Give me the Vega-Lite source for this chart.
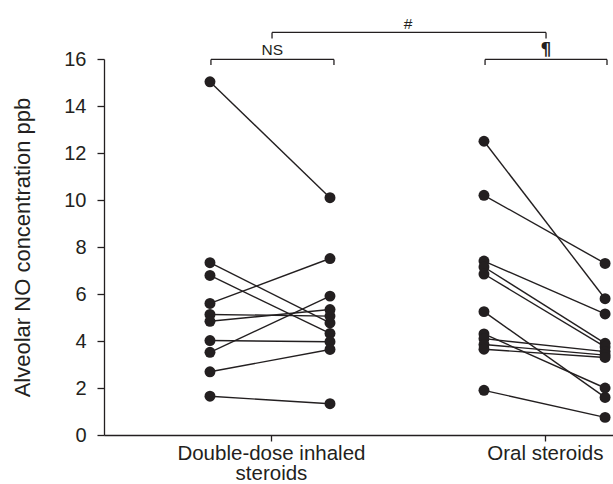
{
  "$schema": "https://vega.github.io/schema/vega-lite/v6.json",
  "width": 509,
  "height": 376,
  "autosize": {"type": "none"},
  "padding": {"left": 104, "top": 59, "right": 0, "bottom": 49},
  "background": "white",
  "config": {
    "view": {"stroke": null},
    "font": "Liberation Sans",
    "axis": {"domainColor": "#231f20", "tickColor": "#231f20", "labelColor": "#231f20", "titleColor": "#231f20", "domainWidth": 1.3, "tickWidth": 1.3, "grid": false, "labelFont": "Liberation Sans", "titleFont": "Liberation Sans"}
  },
  "datasets": {
    "pts": [
      {"id": "d1", "phase": "before", "pos": 1, "v": 15.03},
      {"id": "d1", "phase": "after", "pos": 2, "v": 10.1},
      {"id": "d2", "phase": "before", "pos": 1, "v": 7.33},
      {"id": "d2", "phase": "after", "pos": 2, "v": 4.77},
      {"id": "d3", "phase": "before", "pos": 1, "v": 6.79},
      {"id": "d3", "phase": "after", "pos": 2, "v": 4.32},
      {"id": "d4", "phase": "before", "pos": 1, "v": 5.6},
      {"id": "d4", "phase": "after", "pos": 2, "v": 7.51},
      {"id": "d5", "phase": "before", "pos": 1, "v": 5.13},
      {"id": "d5", "phase": "after", "pos": 2, "v": 5.06},
      {"id": "d6", "phase": "before", "pos": 1, "v": 4.84},
      {"id": "d6", "phase": "after", "pos": 2, "v": 5.34},
      {"id": "d7", "phase": "before", "pos": 1, "v": 4.02},
      {"id": "d7", "phase": "after", "pos": 2, "v": 3.97},
      {"id": "d8", "phase": "before", "pos": 1, "v": 3.52},
      {"id": "d8", "phase": "after", "pos": 2, "v": 5.91},
      {"id": "d9", "phase": "before", "pos": 1, "v": 2.69},
      {"id": "d9", "phase": "after", "pos": 2, "v": 3.64},
      {"id": "d10", "phase": "before", "pos": 1, "v": 1.65},
      {"id": "d10", "phase": "after", "pos": 2, "v": 1.33},
      {"id": "o1", "phase": "before", "pos": 3.283, "v": 12.5},
      {"id": "o1", "phase": "after", "pos": 4.292, "v": 5.8},
      {"id": "o2", "phase": "before", "pos": 3.283, "v": 10.2},
      {"id": "o2", "phase": "after", "pos": 4.292, "v": 7.3},
      {"id": "o3", "phase": "before", "pos": 3.283, "v": 7.4},
      {"id": "o3", "phase": "after", "pos": 4.292, "v": 5.15},
      {"id": "o4", "phase": "before", "pos": 3.283, "v": 7.15},
      {"id": "o4", "phase": "after", "pos": 4.292, "v": 3.9},
      {"id": "o5", "phase": "before", "pos": 3.283, "v": 6.85},
      {"id": "o5", "phase": "after", "pos": 4.292, "v": 3.75},
      {"id": "o6", "phase": "before", "pos": 3.283, "v": 5.25},
      {"id": "o6", "phase": "after", "pos": 4.292, "v": 1.6},
      {"id": "o7", "phase": "before", "pos": 3.283, "v": 4.3},
      {"id": "o7", "phase": "after", "pos": 4.292, "v": 2.0},
      {"id": "o8", "phase": "before", "pos": 3.283, "v": 4.1},
      {"id": "o8", "phase": "after", "pos": 4.292, "v": 3.55},
      {"id": "o9", "phase": "before", "pos": 3.283, "v": 3.85},
      {"id": "o9", "phase": "after", "pos": 4.292, "v": 3.4},
      {"id": "o10", "phase": "before", "pos": 3.283, "v": 3.65},
      {"id": "o10", "phase": "after", "pos": 4.292, "v": 3.3},
      {"id": "o11", "phase": "before", "pos": 3.283, "v": 1.9},
      {"id": "o11", "phase": "after", "pos": 4.292, "v": 0.75}
    ],
    "brackets": [
      {"pos": 1.008, "pos2": 2.033, "v": 15.98, "v2": 15.98},
      {"pos": 1.008, "pos2": 1.008, "v": 15.98, "v2": 15.74},
      {"pos": 2.033, "pos2": 2.033, "v": 15.98, "v2": 15.74},
      {"pos": 3.292, "pos2": 4.308, "v": 15.98, "v2": 15.98},
      {"pos": 3.292, "pos2": 3.292, "v": 15.98, "v2": 15.74},
      {"pos": 4.308, "pos2": 4.308, "v": 15.98, "v2": 15.74},
      {"pos": 1.517, "pos2": 3.8, "v": 17.13, "v2": 17.13},
      {"pos": 1.517, "pos2": 1.517, "v": 17.13, "v2": 16.87},
      {"pos": 3.8, "pos2": 3.8, "v": 17.13, "v2": 16.87}
    ],
    "notes": [
      {"label": "NS", "pos": 1.52, "v": 16.16},
      {"label": "#", "pos": 2.65, "v": 17.28}
    ],
    "pilcrow": [
      {"label": "¶", "pos": 3.8, "v": 16.16}
    ]
  },
  "encoding": {
    "x": {"field": "pos", "type": "quantitative", "scale": {"domain": [0.117, 4.358], "nice": false, "zero": false},
      "axis": {"title": null, "values": [1.508, 3.79], "tickSize": 6, "labelFontSize": 20.5, "labelPadding": 2, "labelLineHeight": 20.5, "labelLimit": 0,
        "labelExpr": "datum.value < 2 ? ['Double-dose inhaled', 'steroids'] : 'Oral steroids'"}},
    "y": {"field": "v", "type": "quantitative", "scale": {"domain": [0, 16], "nice": false},
      "axis": {"title": "Alveolar NO concentration ppb", "titleFontSize": 22, "titleFontWeight": "normal", "values": [0, 2, 4, 6, 8, 10, 12, 14, 16], "tickSize": 7, "labelFontSize": 20, "labelPadding": 11, "titlePadding": 29}}
  },
  "layer": [
    {
      "data": {"name": "pts"},
      "mark": {"type": "line", "color": "#231f20", "strokeWidth": 1.4},
      "encoding": {"detail": {"field": "id"}}
    },
    {
      "data": {"name": "pts"},
      "mark": {"type": "point", "filled": true, "opacity": 1, "color": "#231f20", "size": 120},
      "encoding": {}
    },
    {
      "data": {"name": "brackets"},
      "mark": {"type": "rule", "color": "#231f20", "strokeWidth": 1.3},
      "encoding": {"x2": {"field": "pos2"}, "y2": {"field": "v2"}}
    },
    {
      "data": {"name": "notes"},
      "mark": {"type": "text", "color": "#231f20", "fontSize": 15.5, "baseline": "alphabetic", "align": "center", "font": "Liberation Sans"},
      "encoding": {"text": {"field": "label"}}
    },
    {
      "data": {"name": "pilcrow"},
      "mark": {"type": "text", "color": "#231f20", "fontSize": 17, "fontWeight": "bold", "baseline": "alphabetic", "align": "center", "font": "DejaVu Sans"},
      "encoding": {"text": {"field": "label"}}
    }
  ]
}
